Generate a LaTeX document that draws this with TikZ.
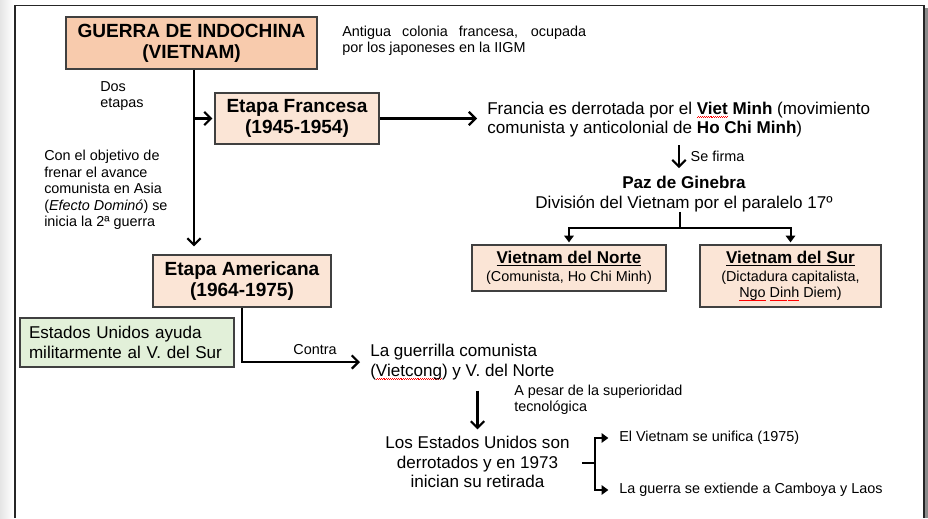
\documentclass[tikz,border=0pt]{standalone}
\usepackage{fontspec}
\setmainfont{Liberation Sans}
\usetikzlibrary{positioning,arrows.meta,shadows}

\definecolor{peach}{HTML}{F8CBAD}
\definecolor{peachlight}{HTML}{FBE5D6}
\definecolor{greenlight}{HTML}{E2F0D9}
\definecolor{boxline}{HTML}{404040}

% red wavy mark of the spell checker
\newcommand{\spellerr}[1]{\setbox0=\hbox{#1}\rlap{\color{red}\raisebox{-2.4pt}{\hbox to\wd0{\xleaders\hbox{\rule{0.7pt}{0.45pt}\raisebox{0.6pt}{\rule{0.7pt}{0.45pt}}}\hfill}}}\box0\relax}

\begin{document}
\begin{tikzpicture} [x=0.75pt, y=-0.75pt,
		every node/.style={inner sep=0pt},
		bigtext/.style={font=\fontsize{14.3}{15.6}\selectfont\bfseries, align=center,
			execute at begin node=\rule{0pt}{17pt}},
		medtext/.style={font=\fontsize{12.8}{14.6}\selectfont},
		smalltext/.style={font=\fontsize{10.8}{12.3}\selectfont},
		stagebox/.style={draw=boxline, line width=0.9pt, fill=peachlight,
			drop shadow={shadow xshift=0.8pt, shadow yshift=-0.8pt, opacity=0.35}},
		mainbox/.style={stagebox, fill=peach},
		countrybox/.style={stagebox, smalltext, align=center, execute at begin node=\rule{0pt}{12pt}},
		arr/.style={line width=1.6pt, -{Straight Barb[length=5pt,width=10pt]}},
		tri/.style={line width=1.5pt, -{Triangle[length=5pt,width=7pt]}}
	]
	\useasboundingbox (0,0) rectangle (928,518);
	\shade[left color=black!10, right color=white] (0,0) rectangle (13,518);
	\fill[black!45] (925,8) rectangle (928,518);
	\draw[line width=1.4pt, black!85] (15,518) -- (15,5.5) -- (924,5.5) -- (924,518);

	\node (title) [mainbox, bigtext, minimum width=188.25pt, minimum height=39pt] at (191.5,43) {GUERRA DE INDOCHINA\\(VIETNAM)};
	\node (colonia) [smalltext, text width=183pt, align=justify, anchor=west] at (342,41) {Antigua colonia francesa, ocupada\linebreak por los japoneses en la IIGM};
	\node (dos) [smalltext, align=left, anchor=west] at (100,96) {Dos\\etapas};
	\node (objetivo) [smalltext, align=left, anchor=west] at (44,190) {Con el objetivo de\\frenar el avance\\comunista en Asia\\(\textit{Efecto Dominó}) se\\inicia la 2ª guerra};

	\node (fra) [stagebox, bigtext, minimum width=123pt, minimum height=38.25pt] at (297,118.5) {Etapa Francesa\\(1945-1954)};
	\node (derrota) [medtext, align=left, anchor=west] at (487,119.5) {Francia es derrotada por el \textbf{\spellerr{Viet} Minh} (movimiento\\comunista y anticolonial de \textbf{Ho Chi Minh})};
	\node (paz) [medtext, align=center] at (684,194) {\textbf{Paz de Ginebra}\\División del Vietnam por el paralelo 17º};
	\node (norte) [countrybox, minimum width=145.5pt, minimum height=34.5pt] at (569,268) {{\fontsize{12.8}{13.5}\selectfont\bfseries\underline{Vietnam del Norte}}\\[1.2pt](Comunista, Ho Chi Minh)};
	\node (sur) [countrybox, minimum width=135.75pt, minimum height=46.5pt] at (790.5,276) {{\fontsize{12.8}{13.5}\selectfont\bfseries\underline{Vietnam del Sur}}\\[1.2pt](Dictadura capitalista,\\\spellerr{Ngo} \spellerr{Dinh} Diem)};

	\node (ame) [stagebox, bigtext, minimum width=133.5pt, minimum height=39pt] at (242,281) {Etapa Americana\\(1964-1975)};
	\node (eeuu) [stagebox, fill=greenlight, medtext, align=left, text width=147pt, minimum width=160.5pt, minimum height=36.75pt] at (127,342.5) {Estados Unidos ayuda\\militarmente al V. del Sur};
	\node (guer) [medtext, align=left, anchor=west] at (370,362) {La guerrilla comunista\\(\spellerr{Vietcong}) y V. del Norte};
	\node (pesar) [smalltext, align=left, anchor=west] at (514,400) {A pesar de la superioridad\\tecnológica};
	\node (ret) [medtext, align=center] at (477.5,462) {Los Estados Unidos son\\derrotados y en 1973\\inician su retirada};
	\node (unif) [smalltext, anchor=west] at (619,438) {El Vietnam se unifica (1975)};
	\node (ext) [smalltext, below=39pt of unif.west, anchor=west] {La guerra se extiende a Camboya y Laos};

	% connectors
	\coordinate (split) at (194,118.5);
	\coordinate (fork) at (680,228);
	\coordinate (brk) at (595,463);
	\draw[arr] (title.south -| split) -- ([yshift=6pt]ame.north -| split);
	\draw[arr, shorten >=1.5pt] (split) -- (fra.west);
	\draw[arr, shorten >=7.5pt] (fra.east) -- (fra.east -| derrota.west);
	\draw[arr, shorten <=6pt, shorten >=6pt] ([xshift=-3.75pt]paz.north |- derrota.south) -- ([xshift=-3.75pt]paz.north)
		node (firma) [smalltext, midway, right=8pt] {Se firma};
	\draw[line width=1.5pt] (paz.south -| fork) -- (fork);
	\draw[tri, shorten >=1.5pt] (fork) -| (norte.north);
	\draw[tri, shorten >=1.5pt] (fork) -| (sur.north);
	\draw[arr, shorten >=7.5pt] (ame.south) |- (guer.west)
		node (contra) [smalltext, pos=0.785, above=5pt] {Contra};
	\draw[arr, shorten <=8pt, shorten >=5pt] (guer.south -| ret.north) -- (ret.north);
	\draw[line width=1.5pt, shorten <=9pt] (ret.east |- brk) -- (brk);
	\draw[tri, shorten >=8pt] (brk) |- (unif.west);
	\draw[tri, shorten >=8pt] (brk) |- (ext.west);

\end{tikzpicture}
\end{document}
